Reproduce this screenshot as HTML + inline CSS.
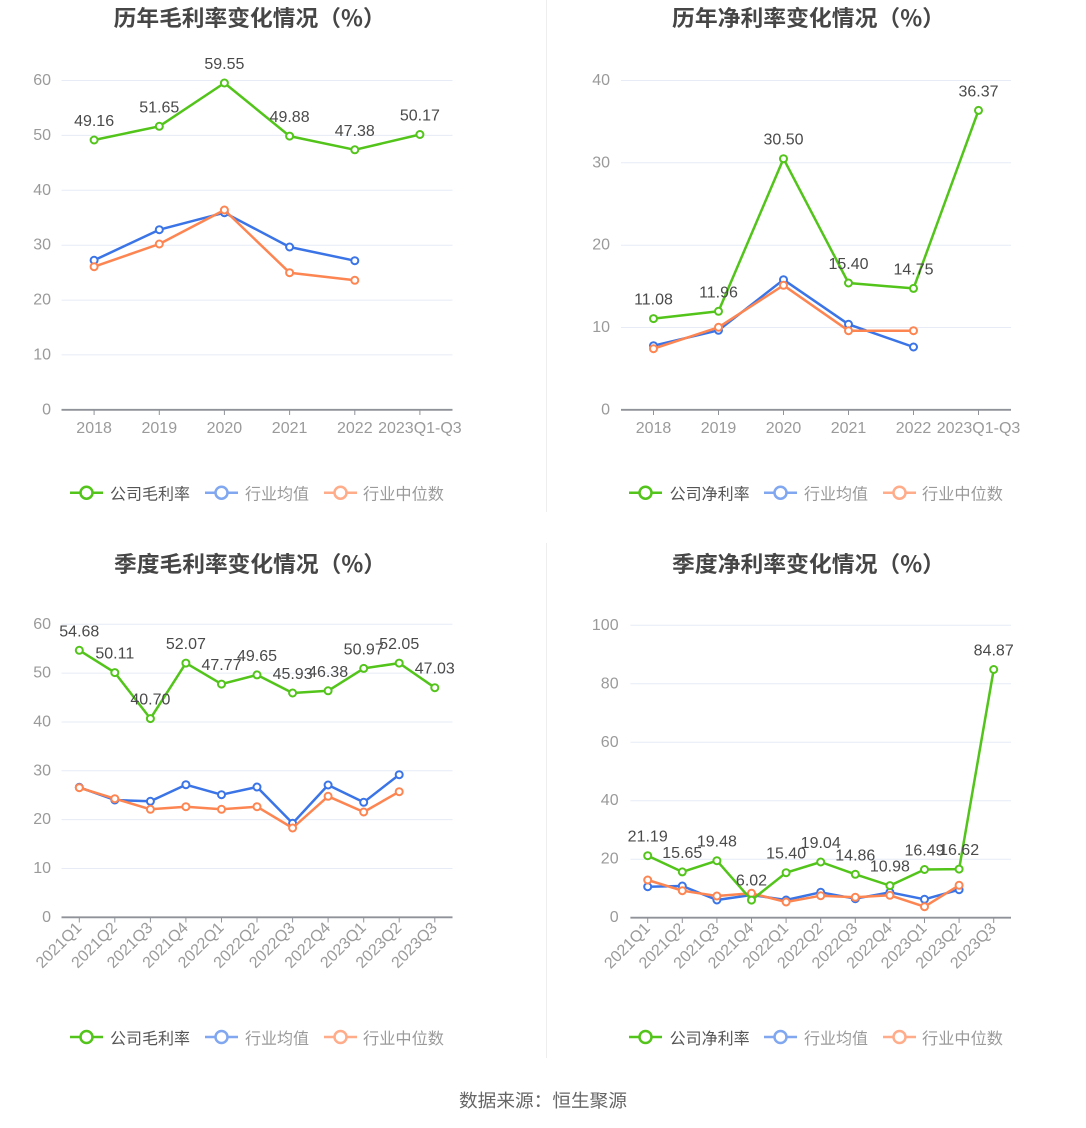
<!DOCTYPE html>
<html><head><meta charset="utf-8"><style>
html,body{margin:0;padding:0;background:#fff;}
svg{display:block;}
text{font-family:"Liberation Sans","Noto Sans CJK SC",sans-serif;}
.cn{font-family:"Noto Sans CJK SC","Liberation Sans",sans-serif;}
.ttl{font-size:22px;font-weight:bold;fill:#464646;}
.ax{font-size:16px;fill:#9a9a9a;}
.lb{font-size:16px;fill:#4a4a4a;text-anchor:middle;}
.grid{stroke:#e6ebf5;stroke-width:1;}
.axis{stroke:#8f9299;stroke-width:1.8;}
.tick{stroke:#8f9299;stroke-width:1;}
.g{fill:none;stroke:#52c41a;stroke-width:2.5;stroke-linejoin:round;}
.b{fill:none;stroke:#3a74e6;stroke-width:2.5;stroke-linejoin:round;}
.o{fill:none;stroke:#fd8552;stroke-width:2.5;stroke-linejoin:round;}
.gs circle{fill:#fff;stroke:#52c41a;stroke-width:2;}
.bs circle{fill:#fff;stroke:#3a74e6;stroke-width:2;}
.os circle{fill:#fff;stroke:#fd8552;stroke-width:2;}
.lg{font-size:16px;}
</style></head><body>
<svg width="1086" height="1128" viewBox="0 0 1086 1128" xmlns="http://www.w3.org/2000/svg">
<rect width="1086" height="1128" fill="#fff"/>
<line x1="546.5" y1="0" x2="546.5" y2="512" stroke="#eeeeee" stroke-width="1"/>
<line x1="546.5" y1="543" x2="546.5" y2="1058" stroke="#eeeeee" stroke-width="1"/>

<!-- ================= Chart 1 ================= -->
<text class="ttl cn" x="249.6" y="17" text-anchor="middle" dominant-baseline="central" textLength="272" lengthAdjust="spacingAndGlyphs">历年毛利率变化情况（%）</text>
<g>
<line class="grid" x1="61.5" y1="80.5" x2="452.5" y2="80.5"/>
<line class="grid" x1="61.5" y1="135.4" x2="452.5" y2="135.4"/>
<line class="grid" x1="61.5" y1="190.3" x2="452.5" y2="190.3"/>
<line class="grid" x1="61.5" y1="245.2" x2="452.5" y2="245.2"/>
<line class="grid" x1="61.5" y1="300.1" x2="452.5" y2="300.1"/>
<line class="grid" x1="61.5" y1="354.9" x2="452.5" y2="354.9"/>
<line class="axis" x1="61.5" y1="409.8" x2="452.5" y2="409.8"/>
<g class="tick"><line x1="94.1" y1="409.8" x2="94.1" y2="415"/><line x1="159.3" y1="409.8" x2="159.3" y2="415"/><line x1="224.4" y1="409.8" x2="224.4" y2="415"/><line x1="289.6" y1="409.8" x2="289.6" y2="415"/><line x1="354.8" y1="409.8" x2="354.8" y2="415"/><line x1="419.9" y1="409.8" x2="419.9" y2="415"/></g>
<g class="ax" text-anchor="end" dominant-baseline="central">
<text x="51" y="80.5">60</text><text x="51" y="135.4">50</text><text x="51" y="190.3">40</text><text x="51" y="245.2">30</text><text x="51" y="300.1">20</text><text x="51" y="354.9">10</text><text x="51" y="409.8">0</text>
</g>
<g class="ax" text-anchor="middle">
<text x="94.1" y="433">2018</text><text x="159.3" y="433">2019</text><text x="224.4" y="433">2020</text><text x="289.6" y="433">2021</text><text x="354.8" y="433">2022</text><text x="419.9" y="433">2023Q1-Q3</text>
</g>
<polyline class="b" points="94.1,260.3 159.3,229.7 224.4,212.7 289.6,247 354.8,260.7"/>
<g class="bs"><circle cx="94.1" cy="260.3" r="3.5"/><circle cx="159.3" cy="229.7" r="3.5"/><circle cx="224.4" cy="212.7" r="3.5"/><circle cx="289.6" cy="247" r="3.5"/><circle cx="354.8" cy="260.7" r="3.5"/></g>
<polyline class="o" points="94.1,266.7 159.3,244 224.4,210 289.6,272.7 354.8,280.3"/>
<g class="os"><circle cx="94.1" cy="266.7" r="3.5"/><circle cx="159.3" cy="244" r="3.5"/><circle cx="224.4" cy="210" r="3.5"/><circle cx="289.6" cy="272.7" r="3.5"/><circle cx="354.8" cy="280.3" r="3.5"/></g>
<polyline class="g" points="94.1,140 159.3,126.3 224.4,83 289.6,136.1 354.8,149.8 419.9,134.5"/>
<g class="gs"><circle cx="94.1" cy="140" r="3.5"/><circle cx="159.3" cy="126.3" r="3.5"/><circle cx="224.4" cy="83" r="3.5"/><circle cx="289.6" cy="136.1" r="3.5"/><circle cx="354.8" cy="149.8" r="3.5"/><circle cx="419.9" cy="134.5" r="3.5"/></g>
<g class="lb">
<text x="94.1" y="126">49.16</text><text x="159.3" y="112.3">51.65</text><text x="224.4" y="69">59.55</text><text x="289.6" y="122.1">49.88</text><text x="354.8" y="135.8">47.38</text><text x="419.9" y="120.5">50.17</text>
</g>
<!-- legend -->
<line x1="70" y1="492.7" x2="103" y2="492.7" stroke="#52c41a" stroke-width="2.5"/><circle cx="86.5" cy="492.7" r="6" fill="#fff" stroke="#52c41a" stroke-width="2.5"/>
<text class="cn lg" x="110" y="492.7" dominant-baseline="central" fill="#555" textLength="80" lengthAdjust="spacingAndGlyphs">公司毛利率</text>
<line x1="205" y1="492.7" x2="238" y2="492.7" stroke="#80a7f0" stroke-width="2.5"/><circle cx="221.5" cy="492.7" r="6" fill="#fff" stroke="#80a7f0" stroke-width="2.5"/>
<text class="cn lg" x="245" y="492.7" dominant-baseline="central" fill="#9a9a9a" textLength="64" lengthAdjust="spacingAndGlyphs">行业均值</text>
<line x1="324" y1="492.7" x2="357" y2="492.7" stroke="#ffac8a" stroke-width="2.5"/><circle cx="340.5" cy="492.7" r="6" fill="#fff" stroke="#ffac8a" stroke-width="2.5"/>
<text class="cn lg" x="363" y="492.7" dominant-baseline="central" fill="#9a9a9a" textLength="81" lengthAdjust="spacingAndGlyphs">行业中位数</text>
</g>

<!-- ================= Chart 2 ================= -->
<text class="ttl cn" x="808.5" y="17" text-anchor="middle" dominant-baseline="central" textLength="273" lengthAdjust="spacingAndGlyphs">历年净利率变化情况（%）</text>
<g>
<line class="grid" x1="621" y1="80.5" x2="1011" y2="80.5"/>
<line class="grid" x1="621" y1="162.8" x2="1011" y2="162.8"/>
<line class="grid" x1="621" y1="245.2" x2="1011" y2="245.2"/>
<line class="grid" x1="621" y1="327.5" x2="1011" y2="327.5"/>
<line class="axis" x1="621" y1="409.8" x2="1011" y2="409.8"/>
<g class="tick"><line x1="653.5" y1="409.8" x2="653.5" y2="415"/><line x1="718.5" y1="409.8" x2="718.5" y2="415"/><line x1="783.5" y1="409.8" x2="783.5" y2="415"/><line x1="848.5" y1="409.8" x2="848.5" y2="415"/><line x1="913.5" y1="409.8" x2="913.5" y2="415"/><line x1="978.5" y1="409.8" x2="978.5" y2="415"/></g>
<g class="ax" text-anchor="end" dominant-baseline="central">
<text x="610" y="80.5">40</text><text x="610" y="162.8">30</text><text x="610" y="245.2">20</text><text x="610" y="327.5">10</text><text x="610" y="409.8">0</text>
</g>
<g class="ax" text-anchor="middle">
<text x="653.5" y="433">2018</text><text x="718.5" y="433">2019</text><text x="783.5" y="433">2020</text><text x="848.5" y="433">2021</text><text x="913.5" y="433">2022</text><text x="978.5" y="433">2023Q1-Q3</text>
</g>
<polyline class="b" points="653.5,345.7 718.5,330.3 783.5,279.7 848.5,324.3 913.5,347"/>
<g class="bs"><circle cx="653.5" cy="345.7" r="3.5"/><circle cx="718.5" cy="330.3" r="3.5"/><circle cx="783.5" cy="279.7" r="3.5"/><circle cx="848.5" cy="324.3" r="3.5"/><circle cx="913.5" cy="347" r="3.5"/></g>
<polyline class="o" points="653.5,348.7 718.5,327.3 783.5,285.3 848.5,330.7 913.5,330.7"/>
<g class="os"><circle cx="653.5" cy="348.7" r="3.5"/><circle cx="718.5" cy="327.3" r="3.5"/><circle cx="783.5" cy="285.3" r="3.5"/><circle cx="848.5" cy="330.7" r="3.5"/><circle cx="913.5" cy="330.7" r="3.5"/></g>
<polyline class="g" points="653.5,318.6 718.5,311.3 783.5,158.7 848.5,283 913.5,288.4 978.5,110.4"/>
<g class="gs"><circle cx="653.5" cy="318.6" r="3.5"/><circle cx="718.5" cy="311.3" r="3.5"/><circle cx="783.5" cy="158.7" r="3.5"/><circle cx="848.5" cy="283" r="3.5"/><circle cx="913.5" cy="288.4" r="3.5"/><circle cx="978.5" cy="110.4" r="3.5"/></g>
<g class="lb">
<text x="653.5" y="304.6">11.08</text><text x="718.5" y="297.3">11.96</text><text x="783.5" y="144.7">30.50</text><text x="848.5" y="269">15.40</text><text x="913.5" y="274.4">14.75</text><text x="978.5" y="96.4">36.37</text>
</g>
<line x1="629" y1="492.7" x2="662" y2="492.7" stroke="#52c41a" stroke-width="2.5"/><circle cx="645.5" cy="492.7" r="6" fill="#fff" stroke="#52c41a" stroke-width="2.5"/>
<text class="cn lg" x="669.6" y="492.7" dominant-baseline="central" fill="#555" textLength="80" lengthAdjust="spacingAndGlyphs">公司净利率</text>
<line x1="764" y1="492.7" x2="797" y2="492.7" stroke="#80a7f0" stroke-width="2.5"/><circle cx="780.5" cy="492.7" r="6" fill="#fff" stroke="#80a7f0" stroke-width="2.5"/>
<text class="cn lg" x="804" y="492.7" dominant-baseline="central" fill="#9a9a9a" textLength="64" lengthAdjust="spacingAndGlyphs">行业均值</text>
<line x1="883" y1="492.7" x2="916" y2="492.7" stroke="#ffac8a" stroke-width="2.5"/><circle cx="899.5" cy="492.7" r="6" fill="#fff" stroke="#ffac8a" stroke-width="2.5"/>
<text class="cn lg" x="922" y="492.7" dominant-baseline="central" fill="#9a9a9a" textLength="81" lengthAdjust="spacingAndGlyphs">行业中位数</text>
</g>

<!-- ================= Chart 3 ================= -->
<text class="ttl cn" x="250" y="563" text-anchor="middle" dominant-baseline="central" textLength="272" lengthAdjust="spacingAndGlyphs">季度毛利率变化情况（%）</text>
<g>
<line class="grid" x1="61.5" y1="624.3" x2="452.5" y2="624.3"/>
<line class="grid" x1="61.5" y1="673.1" x2="452.5" y2="673.1"/>
<line class="grid" x1="61.5" y1="722" x2="452.5" y2="722"/>
<line class="grid" x1="61.5" y1="770.8" x2="452.5" y2="770.8"/>
<line class="grid" x1="61.5" y1="819.6" x2="452.5" y2="819.6"/>
<line class="grid" x1="61.5" y1="868.5" x2="452.5" y2="868.5"/>
<line class="axis" x1="61.5" y1="917.3" x2="452.5" y2="917.3"/>
<g class="tick">
<line x1="79.3" y1="917.3" x2="79.3" y2="922.5"/><line x1="114.8" y1="917.3" x2="114.8" y2="922.5"/><line x1="150.4" y1="917.3" x2="150.4" y2="922.5"/><line x1="185.9" y1="917.3" x2="185.9" y2="922.5"/><line x1="221.5" y1="917.3" x2="221.5" y2="922.5"/><line x1="257" y1="917.3" x2="257" y2="922.5"/><line x1="292.6" y1="917.3" x2="292.6" y2="922.5"/><line x1="328.1" y1="917.3" x2="328.1" y2="922.5"/><line x1="363.7" y1="917.3" x2="363.7" y2="922.5"/><line x1="399.2" y1="917.3" x2="399.2" y2="922.5"/><line x1="434.8" y1="917.3" x2="434.8" y2="922.5"/>
</g>
<g class="ax" text-anchor="end" dominant-baseline="central">
<text x="51" y="624.3">60</text><text x="51" y="673.1">50</text><text x="51" y="722">40</text><text x="51" y="770.8">30</text><text x="51" y="819.6">20</text><text x="51" y="868.5">10</text><text x="51" y="917.3">0</text>
</g>
<g class="ax" text-anchor="end" dominant-baseline="central">
<text x="79.3" y="925.5" transform="rotate(-45 79.3 925.5)">2021Q1</text>
<text x="114.8" y="925.5" transform="rotate(-45 114.8 925.5)">2021Q2</text>
<text x="150.4" y="925.5" transform="rotate(-45 150.4 925.5)">2021Q3</text>
<text x="185.9" y="925.5" transform="rotate(-45 185.9 925.5)">2021Q4</text>
<text x="221.5" y="925.5" transform="rotate(-45 221.5 925.5)">2022Q1</text>
<text x="257" y="925.5" transform="rotate(-45 257 925.5)">2022Q2</text>
<text x="292.6" y="925.5" transform="rotate(-45 292.6 925.5)">2022Q3</text>
<text x="328.1" y="925.5" transform="rotate(-45 328.1 925.5)">2022Q4</text>
<text x="363.7" y="925.5" transform="rotate(-45 363.7 925.5)">2023Q1</text>
<text x="399.2" y="925.5" transform="rotate(-45 399.2 925.5)">2023Q2</text>
<text x="434.8" y="925.5" transform="rotate(-45 434.8 925.5)">2023Q3</text>
</g>
<polyline class="b" points="79.3,787.3 114.8,800 150.4,801.3 185.9,784.7 221.5,794.7 257,787 292.6,823.3 328.1,785 363.7,802.3 399.2,774.7"/>
<g class="bs"><circle cx="79.3" cy="787.3" r="3.5"/><circle cx="114.8" cy="800" r="3.5"/><circle cx="150.4" cy="801.3" r="3.5"/><circle cx="185.9" cy="784.7" r="3.5"/><circle cx="221.5" cy="794.7" r="3.5"/><circle cx="257" cy="787" r="3.5"/><circle cx="292.6" cy="823.3" r="3.5"/><circle cx="328.1" cy="785" r="3.5"/><circle cx="363.7" cy="802.3" r="3.5"/><circle cx="399.2" cy="774.7" r="3.5"/></g>
<polyline class="o" points="79.3,787.7 114.8,798.7 150.4,809.3 185.9,806.7 221.5,809.3 257,806.7 292.6,828 328.1,796.3 363.7,812 399.2,791.7"/>
<g class="os"><circle cx="79.3" cy="787.7" r="3.5"/><circle cx="114.8" cy="798.7" r="3.5"/><circle cx="150.4" cy="809.3" r="3.5"/><circle cx="185.9" cy="806.7" r="3.5"/><circle cx="221.5" cy="809.3" r="3.5"/><circle cx="257" cy="806.7" r="3.5"/><circle cx="292.6" cy="828" r="3.5"/><circle cx="328.1" cy="796.3" r="3.5"/><circle cx="363.7" cy="812" r="3.5"/><circle cx="399.2" cy="791.7" r="3.5"/></g>
<polyline class="g" points="79.3,650.3 114.8,672.6 150.4,718.6 185.9,663.1 221.5,684.1 257,674.9 292.6,693 328.1,690.8 363.7,668.4 399.2,663.1 434.8,687.7"/>
<g class="gs"><circle cx="79.3" cy="650.3" r="3.5"/><circle cx="114.8" cy="672.6" r="3.5"/><circle cx="150.4" cy="718.6" r="3.5"/><circle cx="185.9" cy="663.1" r="3.5"/><circle cx="221.5" cy="684.1" r="3.5"/><circle cx="257" cy="674.9" r="3.5"/><circle cx="292.6" cy="693" r="3.5"/><circle cx="328.1" cy="690.8" r="3.5"/><circle cx="363.7" cy="668.4" r="3.5"/><circle cx="399.2" cy="663.1" r="3.5"/><circle cx="434.8" cy="687.7" r="3.5"/></g>
<g class="lb">
<text x="79.3" y="636.3">54.68</text><text x="114.8" y="658.6">50.11</text><text x="150.4" y="704.6">40.70</text><text x="185.9" y="649.1">52.07</text><text x="221.5" y="670.1">47.77</text><text x="257" y="660.9">49.65</text><text x="292.6" y="679">45.93</text><text x="328.1" y="676.8">46.38</text><text x="363.7" y="654.4">50.97</text><text x="399.2" y="649.1">52.05</text><text x="434.8" y="673.7">47.03</text>
</g>
<line x1="70" y1="1037" x2="103" y2="1037" stroke="#52c41a" stroke-width="2.5"/><circle cx="86.5" cy="1037" r="6" fill="#fff" stroke="#52c41a" stroke-width="2.5"/>
<text class="cn lg" x="110" y="1037" dominant-baseline="central" fill="#555" textLength="80" lengthAdjust="spacingAndGlyphs">公司毛利率</text>
<line x1="205" y1="1037" x2="238" y2="1037" stroke="#80a7f0" stroke-width="2.5"/><circle cx="221.5" cy="1037" r="6" fill="#fff" stroke="#80a7f0" stroke-width="2.5"/>
<text class="cn lg" x="245" y="1037" dominant-baseline="central" fill="#9a9a9a" textLength="64" lengthAdjust="spacingAndGlyphs">行业均值</text>
<line x1="324" y1="1037" x2="357" y2="1037" stroke="#ffac8a" stroke-width="2.5"/><circle cx="340.5" cy="1037" r="6" fill="#fff" stroke="#ffac8a" stroke-width="2.5"/>
<text class="cn lg" x="363" y="1037" dominant-baseline="central" fill="#9a9a9a" textLength="81" lengthAdjust="spacingAndGlyphs">行业中位数</text>
</g>

<!-- ================= Chart 4 ================= -->
<text class="ttl cn" x="808.5" y="563" text-anchor="middle" dominant-baseline="central" textLength="273" lengthAdjust="spacingAndGlyphs">季度净利率变化情况（%）</text>
<g>
<line class="grid" x1="630.4" y1="625.3" x2="1011" y2="625.3"/>
<line class="grid" x1="630.4" y1="683.8" x2="1011" y2="683.8"/>
<line class="grid" x1="630.4" y1="742.3" x2="1011" y2="742.3"/>
<line class="grid" x1="630.4" y1="800.7" x2="1011" y2="800.7"/>
<line class="grid" x1="630.4" y1="859.2" x2="1011" y2="859.2"/>
<line class="axis" x1="630.4" y1="917.7" x2="1011" y2="917.7"/>
<g class="tick">
<line x1="647.7" y1="917.7" x2="647.7" y2="923"/><line x1="682.3" y1="917.7" x2="682.3" y2="923"/><line x1="716.9" y1="917.7" x2="716.9" y2="923"/><line x1="751.5" y1="917.7" x2="751.5" y2="923"/><line x1="786.1" y1="917.7" x2="786.1" y2="923"/><line x1="820.7" y1="917.7" x2="820.7" y2="923"/><line x1="855.3" y1="917.7" x2="855.3" y2="923"/><line x1="889.9" y1="917.7" x2="889.9" y2="923"/><line x1="924.5" y1="917.7" x2="924.5" y2="923"/><line x1="959.1" y1="917.7" x2="959.1" y2="923"/><line x1="993.7" y1="917.7" x2="993.7" y2="923"/>
</g>
<g class="ax" text-anchor="end" dominant-baseline="central">
<text x="618.6" y="625.3">100</text><text x="618.6" y="683.8">80</text><text x="618.6" y="742.3">60</text><text x="618.6" y="800.7">40</text><text x="618.6" y="859.2">20</text><text x="618.6" y="917.7">0</text>
</g>
<g class="ax" text-anchor="end" dominant-baseline="central">
<text x="647.7" y="926" transform="rotate(-45 647.7 926)">2021Q1</text>
<text x="682.3" y="926" transform="rotate(-45 682.3 926)">2021Q2</text>
<text x="716.9" y="926" transform="rotate(-45 716.9 926)">2021Q3</text>
<text x="751.5" y="926" transform="rotate(-45 751.5 926)">2021Q4</text>
<text x="786.1" y="926" transform="rotate(-45 786.1 926)">2022Q1</text>
<text x="820.7" y="926" transform="rotate(-45 820.7 926)">2022Q2</text>
<text x="855.3" y="926" transform="rotate(-45 855.3 926)">2022Q3</text>
<text x="889.9" y="926" transform="rotate(-45 889.9 926)">2022Q4</text>
<text x="924.5" y="926" transform="rotate(-45 924.5 926)">2023Q1</text>
<text x="959.1" y="926" transform="rotate(-45 959.1 926)">2023Q2</text>
<text x="993.7" y="926" transform="rotate(-45 993.7 926)">2023Q3</text>
</g>
<polyline class="b" points="647.7,886.7 682.3,886 716.9,900 751.5,895 786.1,900 820.7,892.3 855.3,898.7 889.9,892.3 924.5,899.3 959.1,889.7"/>
<g class="bs"><circle cx="647.7" cy="886.7" r="3.5"/><circle cx="682.3" cy="886" r="3.5"/><circle cx="716.9" cy="900" r="3.5"/><circle cx="751.5" cy="895" r="3.5"/><circle cx="786.1" cy="900" r="3.5"/><circle cx="820.7" cy="892.3" r="3.5"/><circle cx="855.3" cy="898.7" r="3.5"/><circle cx="889.9" cy="892.3" r="3.5"/><circle cx="924.5" cy="899.3" r="3.5"/><circle cx="959.1" cy="889.7" r="3.5"/></g>
<polyline class="o" points="647.7,880 682.3,890.7 716.9,896 751.5,893.3 786.1,902 820.7,895.7 855.3,897.3 889.9,895.3 924.5,906.7 959.1,885.3"/>
<g class="os"><circle cx="647.7" cy="880" r="3.5"/><circle cx="682.3" cy="890.7" r="3.5"/><circle cx="716.9" cy="896" r="3.5"/><circle cx="751.5" cy="893.3" r="3.5"/><circle cx="786.1" cy="902" r="3.5"/><circle cx="820.7" cy="895.7" r="3.5"/><circle cx="855.3" cy="897.3" r="3.5"/><circle cx="889.9" cy="895.3" r="3.5"/><circle cx="924.5" cy="906.7" r="3.5"/><circle cx="959.1" cy="885.3" r="3.5"/></g>
<polyline class="g" points="647.7,855.7 682.3,871.9 716.9,860.7 751.5,900.1 786.1,872.7 820.7,862 855.3,874.3 889.9,885.6 924.5,869.5 959.1,869.1 993.7,669.5"/>
<g class="gs"><circle cx="647.7" cy="855.7" r="3.5"/><circle cx="682.3" cy="871.9" r="3.5"/><circle cx="716.9" cy="860.7" r="3.5"/><circle cx="751.5" cy="900.1" r="3.5"/><circle cx="786.1" cy="872.7" r="3.5"/><circle cx="820.7" cy="862" r="3.5"/><circle cx="855.3" cy="874.3" r="3.5"/><circle cx="889.9" cy="885.6" r="3.5"/><circle cx="924.5" cy="869.5" r="3.5"/><circle cx="959.1" cy="869.1" r="3.5"/><circle cx="993.7" cy="669.5" r="3.5"/></g>
<g class="lb">
<text x="647.7" y="841.7">21.19</text><text x="682.3" y="857.9">15.65</text><text x="716.9" y="846.7">19.48</text><text x="751.5" y="885.5">6.02</text><text x="786.1" y="858.7">15.40</text><text x="820.7" y="848">19.04</text><text x="855.3" y="860.3">14.86</text><text x="889.9" y="871.6">10.98</text><text x="924.5" y="855.5">16.49</text><text x="959.1" y="855.1">16.62</text><text x="993.7" y="655.5">84.87</text>
</g>
<line x1="629" y1="1037" x2="662" y2="1037" stroke="#52c41a" stroke-width="2.5"/><circle cx="645.5" cy="1037" r="6" fill="#fff" stroke="#52c41a" stroke-width="2.5"/>
<text class="cn lg" x="669.6" y="1037" dominant-baseline="central" fill="#555" textLength="80" lengthAdjust="spacingAndGlyphs">公司净利率</text>
<line x1="764" y1="1037" x2="797" y2="1037" stroke="#80a7f0" stroke-width="2.5"/><circle cx="780.5" cy="1037" r="6" fill="#fff" stroke="#80a7f0" stroke-width="2.5"/>
<text class="cn lg" x="804" y="1037" dominant-baseline="central" fill="#9a9a9a" textLength="64" lengthAdjust="spacingAndGlyphs">行业均值</text>
<line x1="883" y1="1037" x2="916" y2="1037" stroke="#ffac8a" stroke-width="2.5"/><circle cx="899.5" cy="1037" r="6" fill="#fff" stroke="#ffac8a" stroke-width="2.5"/>
<text class="cn lg" x="922" y="1037" dominant-baseline="central" fill="#9a9a9a" textLength="81" lengthAdjust="spacingAndGlyphs">行业中位数</text>
</g>

<text class="cn" x="543" y="1100" text-anchor="middle" dominant-baseline="central" font-size="18" fill="#666" textLength="168" lengthAdjust="spacingAndGlyphs">数据来源：恒生聚源</text>
</svg>
</body></html>
